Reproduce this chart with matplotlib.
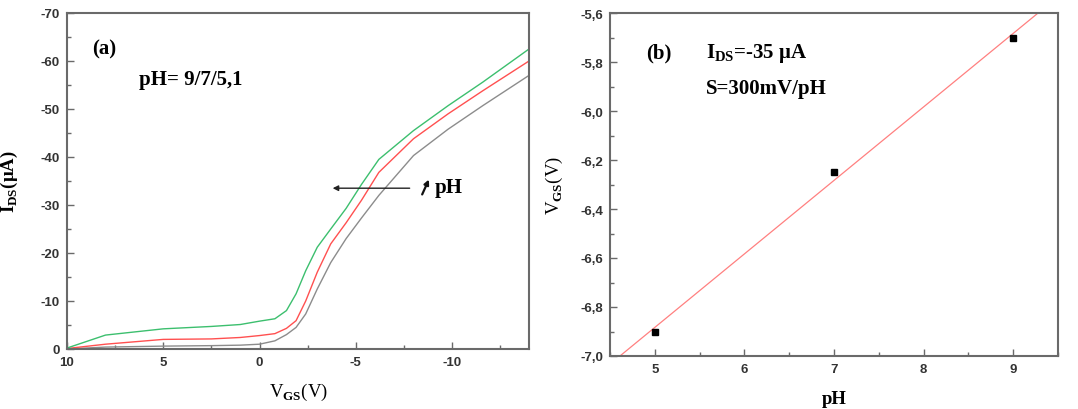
import numpy as np
import matplotlib
matplotlib.use("Agg")
import matplotlib.pyplot as plt
from matplotlib.ticker import MultipleLocator, FuncFormatter

plt.rcParams['axes.unicode_minus'] = False
plt.rcParams['mathtext.fontset'] = 'custom'
plt.rcParams['mathtext.rm'] = 'Liberation Serif'
plt.rcParams['mathtext.bf'] = 'Liberation Serif:bold'

# (a) transfer curves, I_DS (uA) vs V_GS (V)
v_gs = [10, 8, 5, 2.5, 1, 0, -0.8, -1.4, -1.9, -2.4, -3.0, -3.7, -4.5, -5.3, -6.2, -8, -9.8, -11.6, -14]
i_green = [-0.2, -2.9, -4.2, -4.7, -5.1, -5.8, -6.3, -8.0, -11.5, -16.3, -21.2, -25.0, -29.3, -34.3, -39.5, -45.5, -50.7, -55.6, -62.5]
i_red = [-0.1, -1.0, -2.0, -2.1, -2.4, -2.8, -3.2, -4.3, -5.9, -10.0, -16.0, -21.9, -26.3, -31.0, -36.8, -43.8, -49.0, -53.8, -60.0]
i_gray = [0.0, -0.4, -0.6, -0.7, -0.8, -1.0, -1.7, -3.0, -4.5, -7.3, -12.5, -18.0, -23.0, -27.3, -32.0, -40.3, -45.8, -50.7, -57.0]

# (b) V_GS at I_DS = -35 uA vs pH
ph = [5, 7, 9]
vgs_at_ids = [-6.9, -6.25, -5.7]

W, H = 1078, 410
fig = plt.figure(figsize=(W / 100, H / 100), dpi=100)

def frame(l, r, t, b):
    return fig.add_axes([l / W, 1 - b / H, (r - l) / W, (b - t) / H])

spine_c = '#6a6a6a'
serif = 'Liberation Serif'

def style(ax):
    for s in ax.spines.values():
        s.set_color(spine_c)
        s.set_linewidth(1.5)
    ax.tick_params(which='both', direction='in', color=spine_c, width=1.0,
                   labelcolor='#333333', pad=5)
    ax.tick_params(which='major', length=5)
    ax.tick_params(which='minor', length=3)
    for lab in ax.get_xticklabels() + ax.get_yticklabels():
        lab.set_fontfamily('Liberation Sans')
        lab.set_fontweight('bold')
        lab.set_fontsize(9.5)

# ---- panel (a)
ax1 = frame(67, 529, 14, 350)
ax1.plot(v_gs, i_gray, color='#8c8c8c', lw=1.0)
ax1.plot(v_gs, i_red, color='#ff5050', lw=1.0)
ax1.plot(v_gs, i_green, color='#3cbf6e', lw=1.0)
ax1.set_xlim(10, -14)
ax1.set_ylim(0, -70)
ax1.xaxis.set_major_locator(MultipleLocator(5))
ax1.xaxis.set_minor_locator(MultipleLocator(2.5))
ax1.yaxis.set_major_locator(MultipleLocator(10))
ax1.yaxis.set_minor_locator(MultipleLocator(5))
ax1.xaxis.set_major_formatter(FuncFormatter(lambda v, p: f"{v:g}"))
ax1.yaxis.set_major_formatter(FuncFormatter(lambda v, p: f"{v:g}"))
style(ax1)

ax1.set_xlabel(r'V$_{\mathbf{GS}}$(V)', family=serif, fontsize=13.5, labelpad=9)
ax1.yaxis.set_label_coords(-47 / 462, 0.52)
ax1.set_ylabel(r'I$_{\mathbf{DS}}$($\mathbf{\mu}$A)', family=serif, fontsize=13.5, fontweight='bold')

ax1.text(0.055, 0.893, '(a)', transform=ax1.transAxes, family=serif, fontweight='bold',
         fontsize=15, va='center', ha='left')
ax1.text(0.155, 0.804, 'pH= 9/7/5,1', transform=ax1.transAxes, family=serif, fontweight='bold',
         fontsize=15, va='center', ha='left')

ax1.annotate('', xy=(-3.8, -33.5), xytext=(-7.8, -33.5),
             arrowprops=dict(arrowstyle='-|>', color='#222222', lw=1.0,
                             mutation_scale=8, shrinkA=0, shrinkB=0))
ax1.annotate('', xy=(-8.8, -35.3), xytext=(-8.45, -32.2),
             arrowprops=dict(arrowstyle='-|>', color='#111111', lw=1.6,
                             mutation_scale=7, shrinkA=0, shrinkB=0))
ax1.text(-9.1, -33.7, 'pH', family=serif, fontweight='bold', fontsize=15,
         va='center', ha='left')

# ---- panel (b)
ax2 = frame(610, 1058, 14, 357)
slope, icpt = np.polyfit(ph, vgs_at_ids, 1)
xf = np.array([4.5, 9.5])
ax2.plot(xf, slope * xf + icpt, color='#ff8080', lw=0.9)
ax2.plot(ph, vgs_at_ids, 's', color='black', markersize=5)
ax2.set_xlim(4.5, 9.5)
ax2.set_ylim(-7.0, -5.6)
ax2.xaxis.set_major_locator(MultipleLocator(1))
ax2.xaxis.set_minor_locator(MultipleLocator(0.5))
ax2.yaxis.set_major_locator(MultipleLocator(0.2))
ax2.yaxis.set_minor_locator(MultipleLocator(0.1))
ax2.yaxis.set_major_formatter(FuncFormatter(lambda v, p: f"{v:.1f}".replace('.', ',')))
style(ax2)

ax2.set_xlabel('pH', family=serif, fontsize=13.5, fontweight='bold', labelpad=11)
ax2.yaxis.set_label_coords(-45 / 448, 0.5)
ax2.set_ylabel(r'V$_{\mathbf{GS}}$(V)', family=serif, fontsize=13.5)

ax2.text(0.08, 0.885, '(b)', transform=ax2.transAxes, family=serif, fontweight='bold',
         fontsize=15, va='center', ha='left')
ax2.text(0.215, 0.885, r'I$_{\mathbf{DS}}$=-35 $\mathbf{\mu}$A', transform=ax2.transAxes,
         family=serif, fontweight='bold', fontsize=15, va='center', ha='left')
ax2.text(0.215, 0.78, 'S=300mV/pH', transform=ax2.transAxes, family=serif, fontweight='bold',
         fontsize=15, va='center', ha='left')

fig.savefig('out.png', dpi=100)
